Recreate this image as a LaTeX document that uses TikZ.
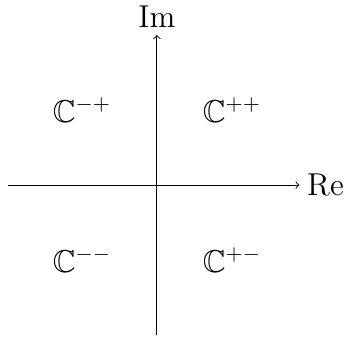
\documentclass[tikz,border=0pt]{standalone}
\usepackage{amssymb}
\begin{document}
\begin{tikzpicture}[scale=1.0,every node/.style={font=\Large}]
\useasboundingbox (-2.51,-2.52) rectangle (3.2,2.96);
\draw[->] (-2.38,0)--(2.28,0) node[right] (re) {Re};
\draw[->] (0,-2.4)--(0,2.4) node[above] (im) {Im};
\node (mp) at (-1.2,1.2) {$\mathbb{C}^{-+}$};
\node (pp) at (1.2,1.2) {$\mathbb{C}^{++}$};
\node (mm) at (-1.2,-1.2) {$\mathbb{C}^{--}$};
\node (pm) at (1.2,-1.2) {$\mathbb{C}^{+-}$};
\end{tikzpicture}
\end{document}
